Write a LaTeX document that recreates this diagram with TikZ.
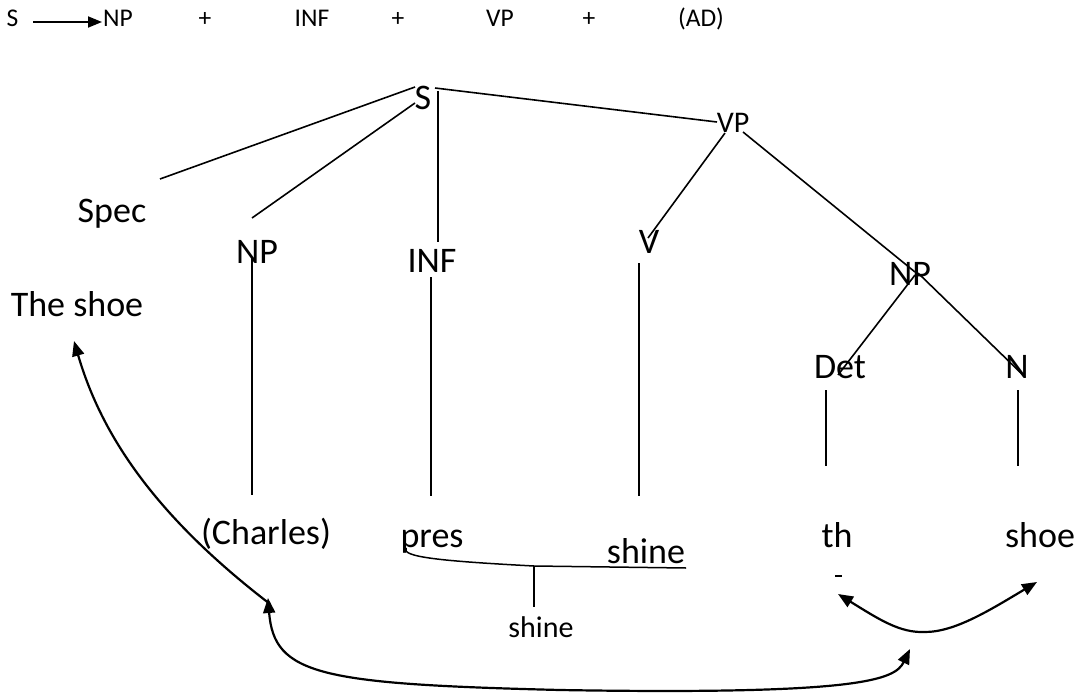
\documentclass[tikz,border=0pt]{standalone}
\usepackage{fontspec}
\setmainfont{Carlito}
\usetikzlibrary{arrows.meta}
\tikzset{
  big/.style={font=\fontsize{36}{40}\selectfont, inner sep=0pt, anchor=base},
  mid/.style={font=\fontsize{30}{34}\selectfont, inner sep=0pt, anchor=base},
  small/.style={font=\fontsize{25.5}{29}\selectfont, inner sep=0pt, anchor=base},
  branch/.style={line width=1.6pt},
  move/.style={line width=2.2pt, -{Triangle[length=15pt,width=12pt]}},
  twoway/.style={line width=2.2pt, {Triangle[length=15pt,width=12pt]}-{Triangle[length=15pt,width=12pt]}}
}
\begin{document}
\begin{tikzpicture}[x=1pt,y=-1pt]
\useasboundingbox (0,0) rectangle (1089,698);

% phrase-structure rule
\node[small] (rS) at (12.5,27) {S};
\node[small] (rNP) at (118,27) {NP};
\node[small] (p1) at (205,27) {+};
\node[small] (rINF) at (312,27) {INF};
\node[small] (p2) at (398,27) {+};
\node[small] (rVP) at (500,27) {VP};
\node[small] (p3) at (589,27) {+};
\node[small] (rAD) at (701,27) {(AD)};
\coordinate (ra) at (33,22);
\coordinate (rb) at (102,22);
\draw[line width=1.8pt, -{Triangle[length=14pt,width=11pt]}] (ra) -- (rb);

% tree labels
\node[big] (S) at (423,110) {S};
\node[mid] (VP) at (733,132) {VP};
\node[big] (Spec) at (112,222) {Spec};
\node[big] (NPa) at (257,263) {NP};
\node[big] (INF) at (432,272) {INF};
\node[big] (V) at (649,253) {V};
\node[big] (NPb) at (910,285) {NP};
\node[big] (Det) at (840,378) {Det};
\node[big] (N) at (1017,378) {N};
\node[big] (theshoe) at (77,316) {The shoe};
\node[big] (charles) at (266,544) {(Charles)};
\node[big] (pres) at (432,547) {pres};
\node[big] (shineU) at (646,563) {shine};
\node[big] (th) at (837,547) {th};
\node[big] (shoe) at (1040,547) {shoe};
\node[mid] (shineS) at (541,637) {shine};

% branch end points
\coordinate (s1) at (415,87);   \coordinate (spec1) at (160,179);
\coordinate (s2) at (415,103);  \coordinate (npa1) at (252,218);
\coordinate (s3) at (438,91);   \coordinate (inf1) at (438,242);
\coordinate (s4) at (435,88);   \coordinate (vp1) at (717,122);
\coordinate (vp2) at (725,133); \coordinate (v1) at (648,238);
\coordinate (vp3) at (743,132); \coordinate (npb1) at (915,272);
\coordinate (npa2) at (252,257); \coordinate (ch1) at (252,495);
\coordinate (inf2) at (431,277); \coordinate (pr1) at (431,496);
\coordinate (v2) at (639,263);  \coordinate (sh1) at (639,496);
\coordinate (npb2) at (915,275); \coordinate (det1) at (838,375);
\coordinate (npb3) at (918,273); \coordinate (n1) at (1025,377);
\coordinate (det2) at (826,390); \coordinate (th1) at (826,466);
\coordinate (n2) at (1018,390);  \coordinate (shoe1) at (1018,466);

\draw[branch] (spec1) -- (s1);
\draw[branch] (npa1) -- (s2);
\draw[branch] (s3) -- (inf1);
\draw[branch] (s4) -- (vp1);
\draw[branch] (vp2) -- (v1);
\draw[branch] (vp3) -- (npb1);
\draw[branch] (npa2) -- (ch1);
\draw[branch] (inf2) -- (pr1);
\draw[branch] (v2) -- (sh1);
\draw[branch] (npb2) -- (det1);
\draw[branch] (npb3) -- (n1);
\draw[branch] (det2) -- (th1);
\draw[branch] (n2) -- (shoe1);

% affix hopping: pres + shine
\coordinate (pr2) at (406,548);
\coordinate (mid) at (534,566);
\coordinate (ul) at (686,568);
\coordinate (mid2) at (534,607);
\draw[line width=1.5pt] (pr2) .. controls (401,557) and (440,561) .. (mid) -- (ul);
\draw[branch] (mid) -- (mid2);

% stray mark under th
\coordinate (d1) at (835,576);
\coordinate (d2) at (842,576);
\draw[line width=1.4pt] (d1) -- (d2);

% movement arrows
\coordinate (a1t) at (74,341);
\coordinate (a1b) at (270,604);
\draw[move] (a1b) .. controls (150,512) and (100,430) .. (a1t);

\coordinate (a2l) at (268,598);
\coordinate (a2m) at (560,690);
\coordinate (a2r) at (910,649);
\draw[twoway] (a2l) .. controls (274,675) and (320,684) .. (a2m)
  .. controls (860,695) and (895,680) .. (a2r);

\coordinate (a3l) at (838,594);
\coordinate (a3m) at (925,632);
\coordinate (a3r) at (1037,582);
\draw[twoway] (a3l) .. controls (880,620) and (900,633) .. (a3m)
  .. controls (955,632) and (990,610) .. (a3r);
\end{tikzpicture}
\end{document}
